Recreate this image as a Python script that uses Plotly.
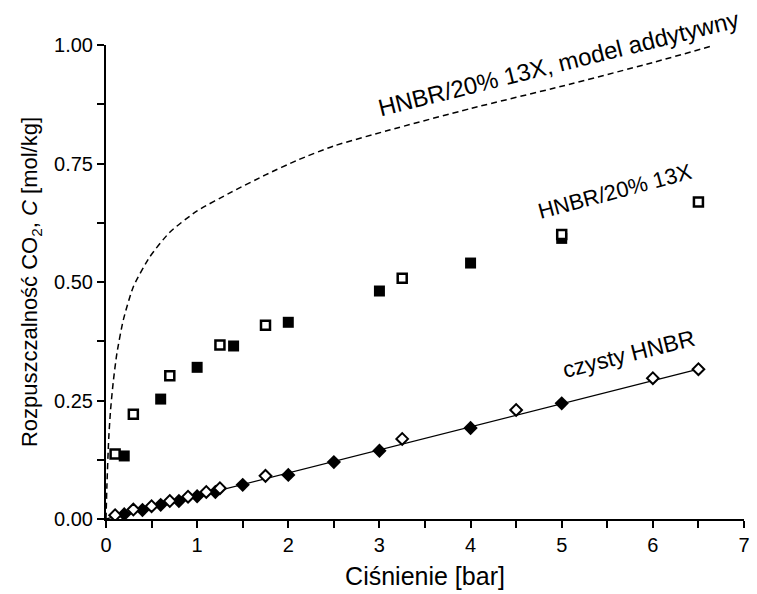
import plotly.graph_objects as go

# --- data ---
sq_open_x = [0.1, 0.3, 0.7, 1.25, 1.75, 3.25, 5.0, 6.5]
sq_open_y = [0.137, 0.221, 0.302, 0.367, 0.409, 0.508, 0.600, 0.669]
sq_fill_x = [0.2, 0.6, 1.0, 1.4, 2.0, 3.0, 4.0, 5.0]
sq_fill_y = [0.133, 0.253, 0.320, 0.365, 0.415, 0.481, 0.540, 0.592]

dm_fill_x = [0.2, 0.4, 0.6, 0.8, 1.0, 1.2, 1.5, 2.0, 2.5, 3.0, 4.0, 5.0]
dm_fill_y = [0.010, 0.019, 0.030, 0.038, 0.048, 0.057, 0.072, 0.093, 0.120, 0.144, 0.192, 0.244]
dm_open_x = [0.1, 0.3, 0.5, 0.7, 0.9, 1.1, 1.25, 1.75, 3.25, 4.5, 6.0, 6.5]
dm_open_y = [0.008, 0.020, 0.027, 0.038, 0.047, 0.057, 0.065, 0.091, 0.169, 0.230, 0.297, 0.316]

fit_x = [0.0, 6.5]
fit_y = [0.0, 0.316]

model_x = [0.0, 0.01, 0.03, 0.05, 0.08, 0.12, 0.19, 0.3, 0.48, 0.7, 1.0, 1.38, 1.75,
           2.1, 2.5, 3.1, 4.0, 5.0, 6.0, 6.65]
model_y = [0.0, 0.07, 0.17, 0.23, 0.29, 0.35, 0.42, 0.49, 0.553, 0.605, 0.65, 0.69, 0.726,
           0.757, 0.787, 0.82, 0.866, 0.913, 0.963, 0.998]

x_ticks = [0, 1, 2, 3, 4, 5, 6, 7]
y_ticks = [0.0, 0.25, 0.5, 0.75, 1.0]
y_tick_text = ["0.00", "0.25", "0.50", "0.75", "1.00"]

FONT = "Liberation Sans, Arial, sans-serif"

fig = go.Figure()

fig.add_trace(go.Scatter(x=model_x, y=model_y, mode="lines",
                         line=dict(color="black", width=1.5, dash="6px,4px", shape="spline", smoothing=0.6),
                         showlegend=False, hoverinfo="skip"))
fig.add_trace(go.Scatter(x=fit_x, y=fit_y, mode="lines",
                         line=dict(color="black", width=1.3), showlegend=False))
fig.add_trace(go.Scatter(x=sq_fill_x, y=sq_fill_y, mode="markers",
                         marker=dict(symbol="square", size=11, color="black", line=dict(width=0)),
                         showlegend=False))
fig.add_trace(go.Scatter(x=sq_open_x, y=sq_open_y, mode="markers",
                         marker=dict(symbol="square", size=9, color="white",
                                     line=dict(width=2.5, color="black")),
                         showlegend=False))
fig.add_trace(go.Scatter(x=dm_fill_x, y=dm_fill_y, mode="markers",
                         marker=dict(symbol="diamond", size=11, color="black", line=dict(width=0)),
                         showlegend=False))
fig.add_trace(go.Scatter(x=dm_open_x, y=dm_open_y, mode="markers",
                         marker=dict(symbol="diamond", size=9, color="white",
                                     line=dict(width=2, color="black")),
                         showlegend=False))

fig.add_annotation(x=4.96, y=0.962, xref="x", yref="y", text="HNBR/20% 13X, model addytywny",
                   showarrow=False, textangle=-14, font=dict(family=FONT, size=24, color="black"))
fig.add_annotation(x=5.58, y=0.69, xref="x", yref="y", text="HNBR/20% 13X",
                   showarrow=False, textangle=-15, font=dict(family=FONT, size=22, color="black"))
fig.add_annotation(x=5.73, y=0.348, xref="x", yref="y", text="czysty HNBR",
                   showarrow=False, textangle=-14, font=dict(family=FONT, size=23, color="black"))

fig.update_layout(
    width=757, height=594,
    margin=dict(l=106, r=7, t=45, b=75),
    paper_bgcolor="white", plot_bgcolor="white",
    font=dict(family=FONT, size=20, color="black"),
    showlegend=False,
)
fig.update_xaxes(
    range=[0, 7], tickvals=x_ticks, ticktext=[str(v) for v in x_ticks],
    showline=True, linecolor="black", linewidth=2, mirror=False,
    ticks="outside", ticklen=7, tickwidth=2, tickcolor="black",
    minor=dict(dtick=0.5, ticks="outside", ticklen=7, tickwidth=2, tickcolor="black", showgrid=False),
    showgrid=False, zeroline=False,
    tickfont=dict(family=FONT, size=20),
    title=dict(text="Ciśnienie [bar]", font=dict(family=FONT, size=25), standoff=12),
)
fig.update_yaxes(
    range=[0, 1.0], tickvals=y_ticks, ticktext=y_tick_text,
    showline=True, linecolor="black", linewidth=2, mirror=False,
    ticks="outside", ticklen=7, tickwidth=2, tickcolor="black",
    minor=dict(dtick=0.125, ticks="outside", ticklen=7, tickwidth=2, tickcolor="black", showgrid=False),
    showgrid=False, zeroline=False,
    tickfont=dict(family=FONT, size=20),
    title=dict(text="Rozpuszczalność CO<sub>2</sub>, <i>C</i> [mol/kg]",
               font=dict(family=FONT, size=22), standoff=10),
)

fig.write_html("out.html")
